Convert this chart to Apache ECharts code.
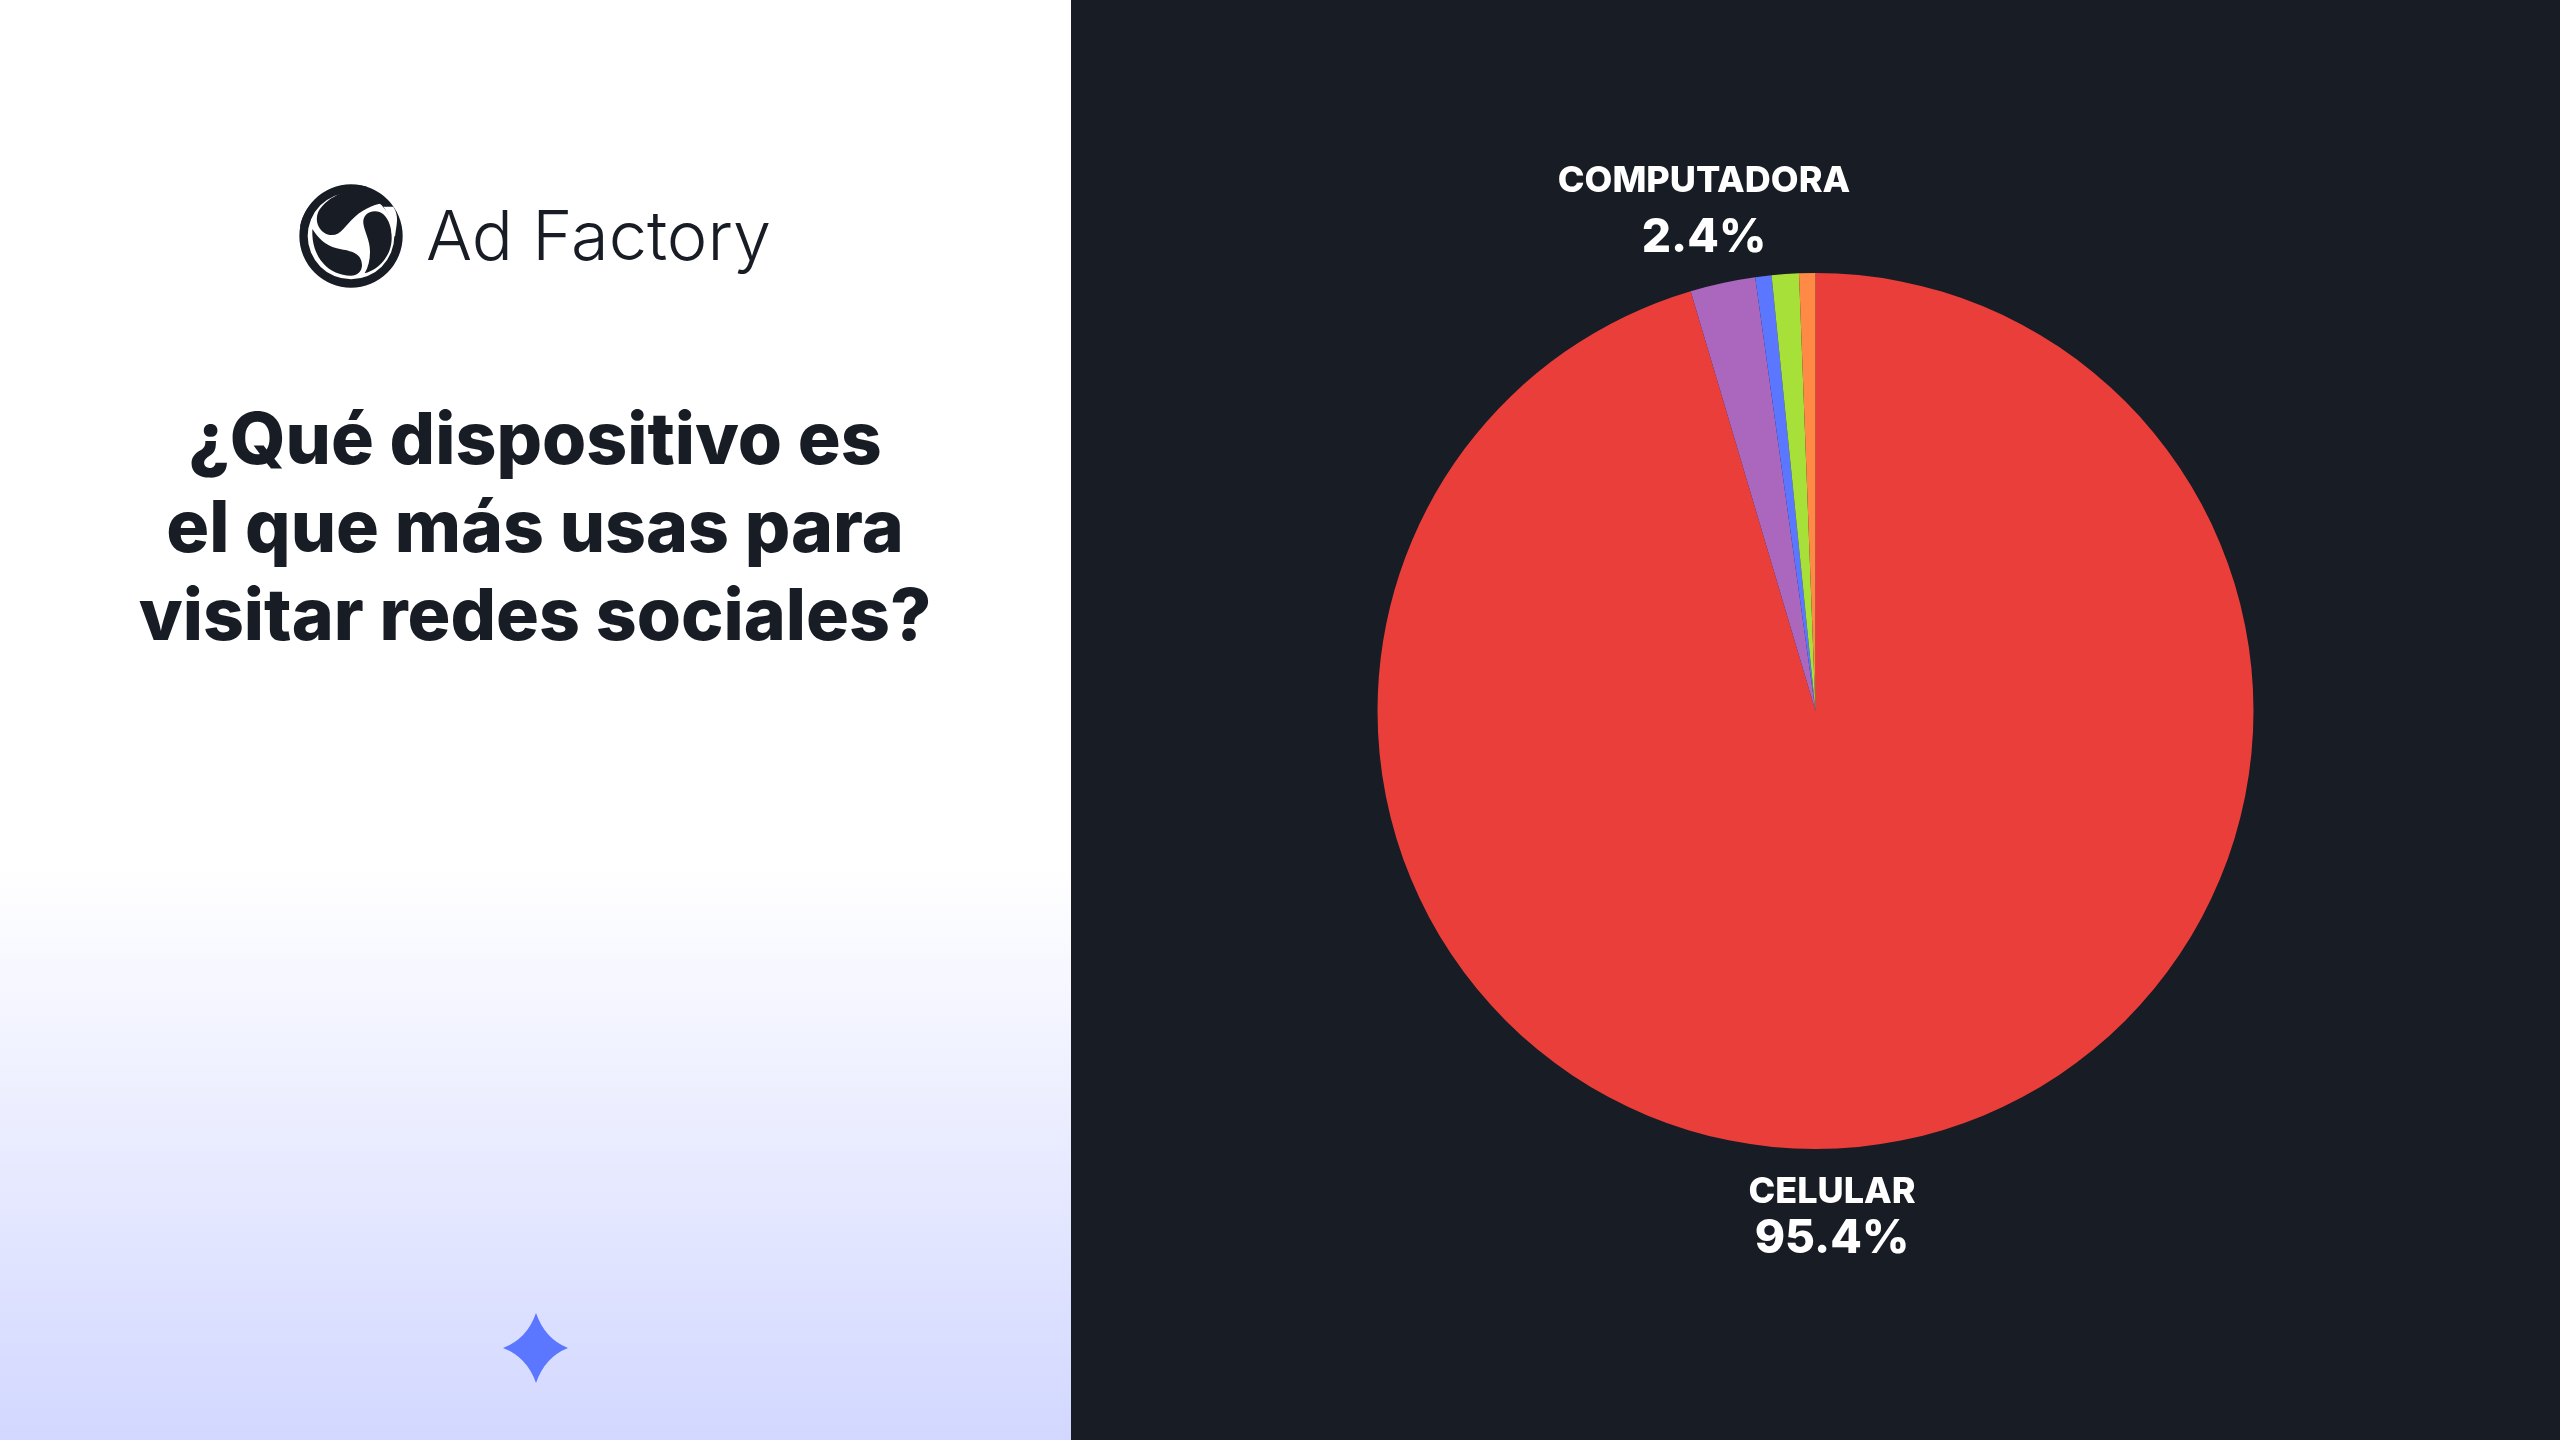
<!DOCTYPE html>
<html>
<head>
<meta charset="utf-8">
<title>Ad Factory</title>
<style>
html, body { margin: 0; padding: 0; background: #fff; }
#chart { width: 2560px; height: 1440px; }
</style>
<script src="https://cdn.jsdelivr.net/npm/echarts@6/dist/echarts.min.js"></script>
</head>
<body>
<div id="chart"></div>
<script>
// datos
var devices = ['CELULAR', 'COMPUTADORA', 'TABLET', 'CONSOLA', 'OTRO'];
var shares = [95.4, 2.4, 0.6, 1.0, 0.6];
var sliceColors = ['#ea3e3a', '#ab67bd', '#5b77ff', '#a8e03a', '#ff8a45'];
var titleLines = ['¿Qué dispositivo es', 'el que más usas para', 'visitar redes sociales?'];
var brand = 'Ad Factory';

var ink = '#181c24';
var fontName = 'Inter, Lato, sans-serif';

// posicion de las dos etiquetas visibles y alto de su segunda linea
var labelPos = {
    0: { x: 1832, y: 1216, pctLine: 48 },
    1: { x: 1704, y: 215, pctLine: 68 }
};

// formas del logo (coordenadas de 3x) y la estrella
var shapes = {
    logoDisc: 'M213 43a155 155 0 1 0 0.1 0z',
    logoHole: 'M213 68a130 130 0 1 0 0.1 0z',
    logoBlobTop: 'M330 97C295 70 262 62 230 62C180 62 135 90 115 125C100 160 125 195 155 195C185 195 195 165 225 140C255 115 285 100 330 97Z',
    logoBlobRight: 'M285 124C262 124 248 140 250 160C253 185 270 210 270 245C270 270 265 290 254 310C300 298 335 255 335 205C335 175 328 150 310 133C303 127 295 124 285 124Z',
    logoBlobLeft: 'M97 177C115 205 135 225 170 235C205 243 245 245 246 285C246 305 232 317 212 317C150 317 93 265 97 177Z',
    logoSwoosh: 'M262 50C240 55 195 52 150 78C115 100 90 135 84 175L60 170C75 90 160 30 262 50Z',
    logoSlit: 'M310 110L340 110C358 140 350 160 345 200L335 190C335 160 330 135 310 110Z',
    star: 'M536 1313Q545 1339 568 1348Q545 1357 536 1383Q527 1357 503 1348Q527 1339 536 1313Z'
};
for (var key in shapes) {
    echarts.graphic.registerShape(key, echarts.graphic.extendPath(shapes[key], {}));
}

var pieData = [];
for (var i = 0; i < devices.length; i++) {
    var item = {
        name: devices[i],
        value: shares[i],
        itemStyle: { color: sliceColors[i] },
        label: { show: i < 2 }
    };
    if (labelPos[i]) {
        item.label.rich = { p: { lineHeight: labelPos[i].pctLine } };
    }
    pieData.push(item);
}

var titleTexts = [];
for (var j = 0; j < titleLines.length; j++) {
    titleTexts.push({
        type: 'text',
        x: 535,
        y: 442 + j * 88,
        style: {
            text: titleLines[j],
            fill: ink,
            font: '800 71.5px ' + fontName,
            textAlign: 'center',
            textVerticalAlign: 'middle'
        }
    });
}

var option = {
    backgroundColor: '#ffffff',
    animation: false,
    graphic: [
        {
            type: 'rect',
            silent: true,
            z: -10,
            shape: { x: 0, y: 0, width: 1071, height: 1440 },
            style: {
                fill: new echarts.graphic.LinearGradient(0, 0, 0, 1, [
                    { offset: 0, color: '#ffffff' },
                    { offset: 0.6, color: '#ffffff' },
                    { offset: 1, color: '#d2d7ff' }
                ])
            }
        },
        {
            type: 'rect',
            silent: true,
            z: -10,
            shape: { x: 1071, y: 0, width: 1489, height: 1440 },
            style: { fill: ink }
        },
        {
            type: 'group',
            x: 280,
            y: 170,
            scaleX: 1 / 3,
            scaleY: 1 / 3,
            silent: true,
            children: [
                { type: 'logoDisc', style: { fill: ink } },
                { type: 'logoHole', style: { fill: '#ffffff' } },
                { type: 'logoBlobTop', style: { fill: ink } },
                { type: 'logoBlobRight', style: { fill: ink } },
                { type: 'logoBlobLeft', style: { fill: ink } },
                { type: 'logoSwoosh', style: { fill: ink } },
                { type: 'logoSlit', style: { fill: '#ffffff' } }
            ]
        },
        {
            type: 'text',
            x: 426,
            y: 239,
            silent: true,
            style: {
                text: brand,
                fill: ink,
                font: '300 68.5px ' + fontName,
                textAlign: 'left',
                textVerticalAlign: 'middle'
            }
        },
        {
            type: 'group',
            silent: true,
            children: titleTexts
        },
        {
            type: 'star',
            silent: true,
            style: { fill: '#5b77ff' }
        }
    ],
    series: [
        {
            type: 'pie',
            center: [1815.5, 711],
            radius: [0, 438],
            startAngle: 90,
            clockwise: true,
            avoidLabelOverlap: false,
            minShowLabelAngle: 0,
            data: pieData,
            emphasis: { disabled: true },
            labelLine: { show: false },
            label: {
                position: 'outside',
                formatter: '{n|{b}}\n{p|{c}%}',
                align: 'center',
                rich: {
                    n: { fontFamily: fontName, fontWeight: 800, fontSize: 36, color: '#fff', lineHeight: 46, align: 'center' },
                    p: { fontFamily: fontName, fontWeight: 800, fontSize: 46, color: '#fff', lineHeight: 56, align: 'center' }
                }
            },
            labelLayout: function (params) {
                var pos = labelPos[params.dataIndex];
                if (!pos) {
                    return {};
                }
                return { x: pos.x, y: pos.y, align: 'center', verticalAlign: 'middle', hideOverlap: false };
            }
        }
    ]
};

var chart = echarts.init(document.getElementById('chart'), null, { renderer: 'canvas' });
chart.setOption(option);
</script>
</body>
</html>
